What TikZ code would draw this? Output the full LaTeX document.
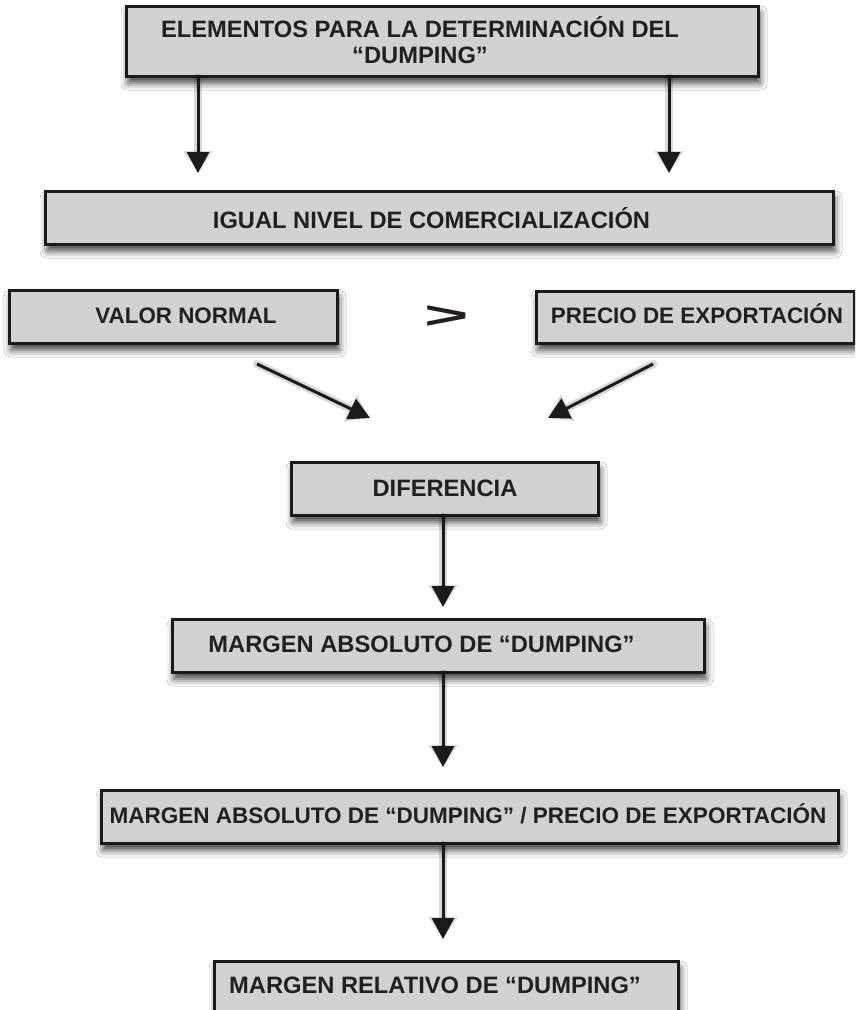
\documentclass[tikz,border=0pt]{standalone}
\usepackage{fontspec}
\setmainfont{Liberation Sans}
\usepackage{graphicx}
\usetikzlibrary{arrows.meta,shadows.blur}
\definecolor{boxfill}{HTML}{D1D1D1}
\definecolor{edge}{HTML}{1A1A1A}
\definecolor{ink}{HTML}{231F20}
\tikzset{
  boxnode/.style={rectangle, draw=edge, fill=boxfill, line width=3pt, inner sep=0pt,
    blur shadow={shadow xshift=2pt, shadow yshift=-7pt, shadow blur radius=7pt, shadow opacity=75}},
  lbl/.style={inner sep=0pt, anchor=base, text=ink, font=\fontsize{23.7}{26}\selectfont\bfseries, align=center},
  lblsmall/.style={lbl, font=\fontsize{22.4}{26}\selectfont\bfseries},
  arr/.style={draw=edge, line width=3pt, -{Triangle[length=21pt,width=22pt]}},
  arrshadow/.style={draw=black, opacity=0.15, line width=8pt, line cap=round, -{Triangle[length=22pt,width=28pt]}}
}
\begin{document}
\begin{tikzpicture}[x=1pt,y=-1pt]
\clip (0,0) rectangle (855,1010);
\fill[white] (0,0) rectangle (855,1010);
% boxes
\node[boxnode, minimum width=632pt, minimum height=70pt] (top) at (442,41) {};
\node[boxnode, minimum width=788pt, minimum height=53pt] (igual) at (439,217.5) {};
\node[boxnode, minimum width=328pt, minimum height=53pt] (valor) at (173,316.5) {};
\node[boxnode, minimum width=318pt, minimum height=52pt] (precio) at (695,317) {};
\node[boxnode, minimum width=307pt, minimum height=53pt] (dif) at (444.5,488.5) {};
\node[boxnode, minimum width=532pt, minimum height=53pt] (mabs) at (438,645.5) {};
\node[boxnode, minimum width=737pt, minimum height=53pt] (mpre) at (469.5,816.5) {};
\node[boxnode, minimum width=464pt, minimum height=53pt] (mrel) at (446,987.5) {};
% texts
\node[lbl] (ttop) at (420,63) {ELEMENTOS PARA LA DETERMINACIÓN DEL\\“DUMPING”};
\node[lbl] (tigual) at (431.5,228) {IGUAL NIVEL DE COMERCIALIZACIÓN};
\node[lblsmall] (tvalor) at (186,323) {VALOR NORMAL};
\node[lblsmall] (tprecio) at (697,323) {PRECIO DE EXPORTACIÓN};
\node[lbl] (tdif) at (445,496) {DIFERENCIA};
\node[lbl] (tmabs) at (421.5,652) {MARGEN ABSOLUTO DE “DUMPING”};
\node[lblsmall, font=\fontsize{22.5}{26}\selectfont\bfseries] (tmpre) at (468,823) {MARGEN ABSOLUTO DE “DUMPING” / PRECIO DE EXPORTACIÓN};
\node[lbl] (tmrel) at (435,993) {MARGEN RELATIVO DE “DUMPING”};
\node[inner sep=0pt, text=ink, font=\fontsize{38}{38}\selectfont\bfseries] (gt) at (447,317.5) {\scalebox{2.0}[1]{>}};
% connector end points
\coordinate (a1) at (198,173);
\coordinate (a2) at (669,173);
\coordinate (s1) at (257,364);
\coordinate (t1) at (370,418);
\coordinate (s2) at (653,364);
\coordinate (t2) at (548,418);
\coordinate (a3) at (443,607);
\coordinate (a4) at (443,767);
\coordinate (a5) at (443,939);
% soft connector shadows
\begin{scope}[shift={(2,5)}]
\draw[arrshadow] (top.south -| a1) -- (a1);
\draw[arrshadow] (top.south -| a2) -- (a2);
\draw[arrshadow] (s1) -- (t1);
\draw[arrshadow] (s2) -- (t2);
\draw[arrshadow] (dif.south -| a3) -- (a3);
\draw[arrshadow] (mabs.south -| a4) -- (a4);
\draw[arrshadow] (mpre.south -| a5) -- (a5);
\end{scope}
% connectors
\draw[arr] (top.south -| a1) -- (a1);
\draw[arr] (top.south -| a2) -- (a2);
\draw[arr] (s1) -- (t1);
\draw[arr] (s2) -- (t2);
\draw[arr] (dif.south -| a3) -- (a3);
\draw[arr] (mabs.south -| a4) -- (a4);
\draw[arr] (mpre.south -| a5) -- (a5);
\end{tikzpicture}
\end{document}
